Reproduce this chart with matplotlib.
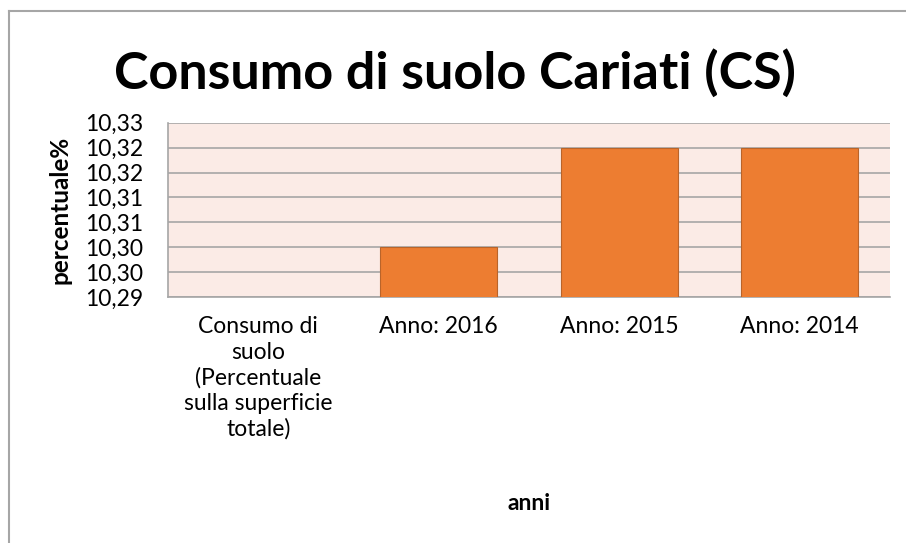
import numpy as np
import matplotlib
matplotlib.use("Agg")
import matplotlib.pyplot as plt
from matplotlib.ticker import FuncFormatter, MultipleLocator
from matplotlib.lines import Line2D

plt.rcParams['font.family'] = ['Lato', 'DejaVu Sans']

categories = ["Consumo di\nsuolo\n(Percentuale\nsulla superficie\ntotale)",
              "Anno: 2016", "Anno: 2015", "Anno: 2014"]
values = [np.nan, 10.30, 10.32, 10.32]
title = "Consumo di suolo Cariati (CS)"
xlabel = "anni"
ylabel = "percentuale%"

W, H = 906, 543
fig = plt.figure(figsize=(W / 100, H / 100), dpi=100)
ax_l, ax_r, ax_t, ax_b = 168, 890, 122.7, 297
ax = fig.add_axes([ax_l / W, 1 - ax_b / H, (ax_r - ax_l) / W, (ax_b - ax_t) / H])

ax.set_facecolor('#FBEBE6')
x = np.arange(len(categories))
ax.bar(x, values, width=0.648, color='#ED7D31', edgecolor='#B9642A', linewidth=0.8, zorder=3)

ax.set_xlim(-0.5, len(categories) - 0.5)
ax.set_ylim(10.29, 10.325)
ax.yaxis.set_major_locator(MultipleLocator(0.005))
ax.yaxis.set_major_formatter(FuncFormatter(lambda v, p: f"{v + 1e-9:.2f}".replace('.', ',')))
ax.grid(axis='y', color='#A6A6A6', linewidth=1.2, zorder=1)
ax.set_axisbelow(True)

for s in ['top', 'right']:
    ax.spines[s].set_visible(False)
for s in ['left', 'bottom']:
    ax.spines[s].set_color('#A6A6A6')
    ax.spines[s].set_linewidth(1.2)

fs = 16.5
ax.set_xticks(x)
ax.set_xticklabels(categories, fontsize=fs, linespacing=1.25, va='top')
ax.tick_params(axis='x', length=0, pad=14)
ax.tick_params(axis='y', length=0, pad=18, labelsize=fs)

ax.set_xlabel(xlabel, fontsize=fs, fontweight='bold', va='center')
ax.xaxis.set_label_coords(0.5, (ax_b - 503) / (ax_b - ax_t))
ax.set_ylabel(ylabel, fontsize=17.5, fontweight='bold', va='center')
ax.yaxis.set_label_coords((60 - ax_l) / (ax_r - ax_l), 0.5)

fig.text(455 / W, 1 - 73 / H, title, fontsize=37.5, fontweight='bold', ha='center', va='center')

fig.add_artist(Line2D([8.5 / W, 8.5 / W], [0, 1 - 10.5 / H], color='#A6A6A6', linewidth=1.5,
                      transform=fig.transFigure))
fig.add_artist(Line2D([8.5 / W, 1], [1 - 10.5 / H, 1 - 10.5 / H], color='#A6A6A6', linewidth=1.5,
                      transform=fig.transFigure))

fig.savefig("out.png", dpi=100)
